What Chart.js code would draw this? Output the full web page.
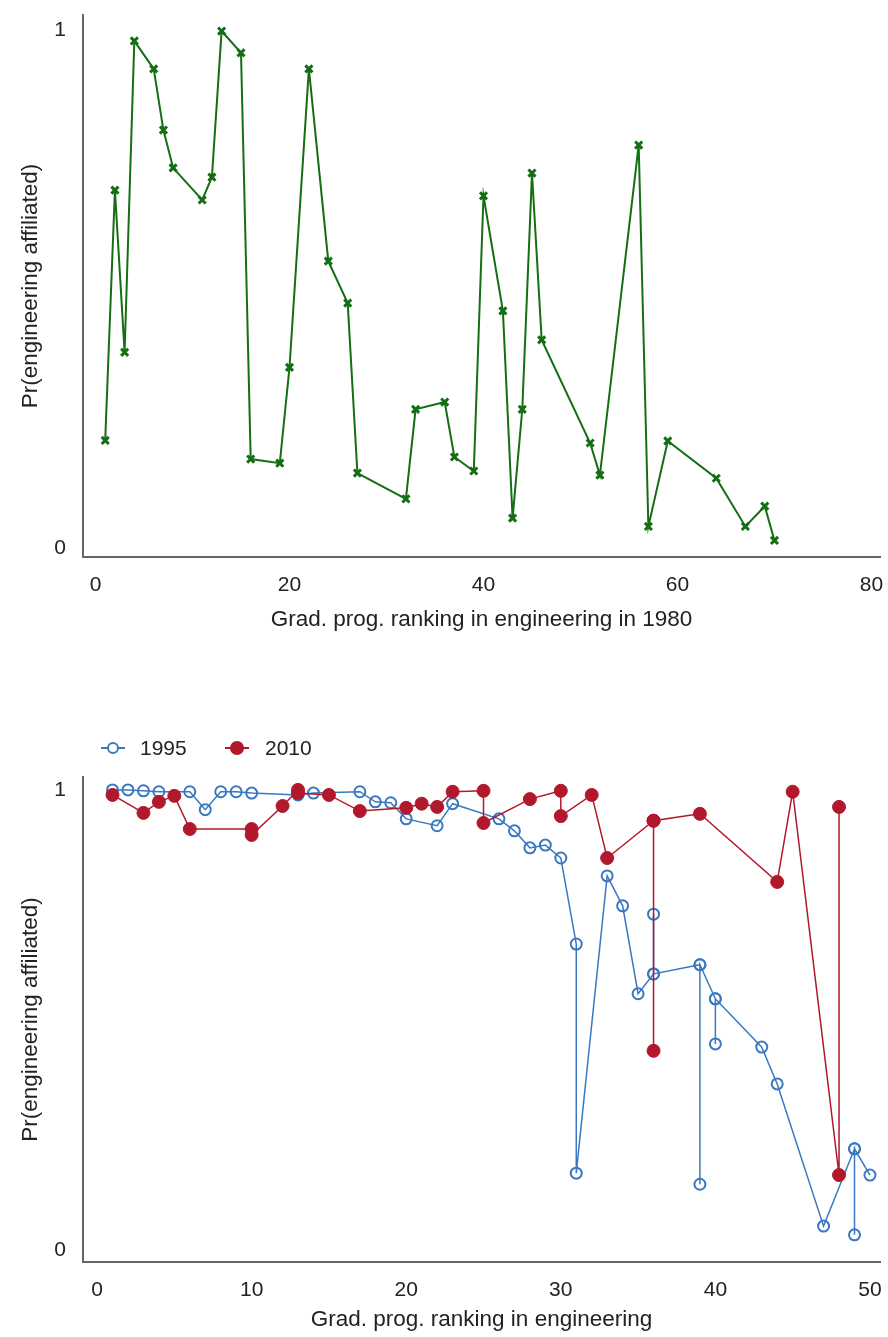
<!DOCTYPE html>
<html>
<head>
<meta charset="utf-8">
<script src="https://cdn.jsdelivr.net/npm/chart.js@4.4.0/dist/chart.umd.min.js"></script>
<style>
  body { margin: 0; background: #fff; font-family: "Liberation Sans", Arial, sans-serif; }
  .box { position: absolute; left: 0; width: 888px; }
  #topBox { top: 0; height: 650px; }
  #bottomBox { top: 700px; height: 637px; }
  #legend { position: absolute; top: 734px; left: 0; height: 28px; width: 400px; font-size: 21px; color: #222; }
  .item { position: absolute; top: 0; height: 28px; line-height: 28px; }
  .sym { position: absolute; top: 13px; height: 2px; width: 24px; }
  .dot { position: absolute; border-radius: 50%; box-sizing: border-box; }
</style>
</head>
<body>
<div class="box" id="topBox"><canvas id="chartTop" width="888" height="650"></canvas></div>
<div class="box" id="bottomBox"><canvas id="chartBottom" width="888" height="637"></canvas></div>
<div id="legend">
  <div class="sym" style="left:101px;background:#3a78c0"></div>
  <div class="dot" style="left:107px;top:8px;width:12px;height:12px;border:2px solid #3a78c0;background:#fff"></div>
  <div class="item" style="left:140px">1995</div>
  <div class="sym" style="left:225px;background:#b2182b"></div>
  <div class="dot" style="left:230px;top:7px;width:14px;height:14px;background:#b2182b"></div>
  <div class="item" style="left:265px">2010</div>
</div>
<script>
// top panel: ranking in 1980
var rank1980 = [1, 2, 3, 4, 6, 7, 8, 11, 12, 13, 15, 16, 19, 20, 22, 24, 26, 27, 32, 33,
  36, 37, 39, 40, 42, 43, 44, 45, 46, 51, 52, 56, 57, 59, 64, 67, 69, 70];
var share1980 = [0.208, 0.691, 0.378, 0.979, 0.925, 0.807, 0.734, 0.672, 0.716, 0.998,
  0.956, 0.172, 0.164, 0.349, 0.925, 0.554, 0.473, 0.145, 0.095, 0.268,
  0.282, 0.176, 0.149, 0.680, 0.458, 0.058, 0.268, 0.724, 0.402, 0.203,
  0.141, 0.778, 0.042, 0.207, 0.135, 0.042, 0.081, 0.015];

// bottom panel: 1995 and 2010
var rank1995 = [1, 2, 3, 4, 6, 7, 8, 9, 10, 13, 14, 17, 18, 19, 20, 22, 23, 26, 27, 28,
  29, 30, 31, 31, 33, 34, 35, 36, 36, 36, 39, 39, 39, 40, 40, 40, 43, 44, 47, 49,
  49, 49, 50];
var share1995 = [1.0, 1.0, 0.998, 0.996, 0.996, 0.957, 0.996, 0.996, 0.993, 0.989,
  0.993, 0.996, 0.974, 0.972, 0.937, 0.922, 0.970, 0.937, 0.911, 0.874,
  0.880, 0.852, 0.665, 0.167, 0.813, 0.748, 0.557, 0.600, 0.730, 0.600,
  0.620, 0.143, 0.620, 0.546, 0.448, 0.546, 0.441, 0.361, 0.052, 0.220,
  0.033, 0.220, 0.163];
var rank2010 = [1, 3, 4, 5, 6, 10, 10, 12, 13, 13, 15, 17, 20, 21, 22, 23, 25, 25, 28, 30,
  30, 32, 33, 36, 36, 36, 39, 44, 45, 48, 48];
var share2010 = [0.989, 0.950, 0.974, 0.987, 0.915, 0.915, 0.902, 0.965, 1.0, 0.993,
  0.989, 0.954, 0.961, 0.970, 0.963, 0.996, 0.998, 0.928, 0.980, 0.998,
  0.943, 0.989, 0.852, 0.933, 0.433, 0.933, 0.948, 0.800, 0.996, 0.163,
  0.963];

var xTicksTop = [0, 20, 40, 60, 80];
var xTicksBottom = [0, 10, 20, 30, 40, 50];
var yTicks = [0, 1];

var FONT = "'Liberation Sans', Arial, sans-serif";
var AXIS = "#666";
var TEXT = "#222";

function points(xs, ys) {
  return xs.map(function (x, i) { return { x: x, y: ys[i] }; });
}

function fixTicks(values) {
  return function (scale) {
    scale.ticks = values.map(function (v) { return { value: v }; });
  };
}

function xAxis(min, max, ticks, height, title, titlePad) {
  return {
    type: "linear",
    min: min,
    max: max,
    afterBuildTicks: fixTicks(ticks),
    afterFit: function (s) {
      s.height = height;
      s.paddingLeft = 0;
      s.paddingRight = 0;
    },
    grid: { display: false, drawTicks: false },
    border: { display: true, color: AXIS, width: 2 },
    ticks: { padding: 16, color: TEXT, autoSkip: false, maxRotation: 0, font: { family: FONT, size: 21 } },
    title: { display: true, text: title, color: TEXT, font: { family: FONT, size: 22.5 }, padding: { top: 0, bottom: titlePad } }
  };
}

function yAxis(min, max) {
  return {
    type: "linear",
    min: min,
    max: max,
    afterBuildTicks: fixTicks(yTicks),
    afterFit: function (s) {
      s.width = 83;
      s.paddingTop = 0;
      s.paddingBottom = 0;
    },
    grid: { display: false, drawTicks: false },
    border: { display: true, color: AXIS, width: 2 },
    ticks: { padding: 17, color: TEXT, font: { family: FONT, size: 21 } },
    title: { display: true, text: "Pr(engineering affiliated)", color: TEXT, font: { family: FONT, size: 22.5 }, padding: { top: 17, bottom: 0 } }
  };
}

var green = "rgb(20,110,20)";

new Chart(document.getElementById("chartTop").getContext("2d"), {
  type: "scatter",
  data: {
    datasets: [
      {
        label: "1980",
        data: points(rank1980, share1980),
        showLine: true,
        borderColor: green,
        borderWidth: 2,
        pointStyle: "crossRot",
        pointRadius: 5,
        pointBorderWidth: 3,
        pointBorderColor: green,
        pointBackgroundColor: green
      }
    ]
  },
  options: {
    responsive: false,
    animation: false,
    layout: { padding: { top: 15, right: 8, left: 0, bottom: 0 } },
    plugins: { legend: { display: false }, tooltip: { enabled: false } },
    scales: {
      x: xAxis(-1.29, 80.88, xTicksTop, 93, "Grad. prog. ranking in engineering in 1980", 17),
      y: yAxis(-0.017, 1.029)
    }
  }
});

var blue = "#3a78c0";
var red = "#b2182b";

new Chart(document.getElementById("chartBottom").getContext("2d"), {
  type: "scatter",
  data: {
    datasets: [
      {
        label: "1995",
        data: points(rank1995, share1995),
        showLine: true,
        order: 2,
        borderColor: blue,
        borderWidth: 1.5,
        pointStyle: "circle",
        pointRadius: 5.5,
        pointBorderWidth: 2,
        pointBorderColor: blue,
        pointBackgroundColor: "rgba(255,255,255,0)"
      },
      {
        label: "2010",
        data: points(rank2010, share2010),
        showLine: true,
        order: 1,
        borderColor: red,
        borderWidth: 1.5,
        pointStyle: "circle",
        pointRadius: 6.5,
        pointBorderWidth: 1,
        pointBorderColor: red,
        pointBackgroundColor: red
      }
    ]
  },
  options: {
    responsive: false,
    animation: false,
    layout: { padding: { top: 77, right: 8, left: 0, bottom: 0 } },
    plugins: { legend: { display: false }, tooltip: { enabled: false } },
    scales: {
      x: xAxis(-0.91, 50.65, xTicksBottom, 75, "Grad. prog. ranking in engineering", 4),
      y: yAxis(-0.026, 1.028)
    }
  }
});
</script>
</body>
</html>
